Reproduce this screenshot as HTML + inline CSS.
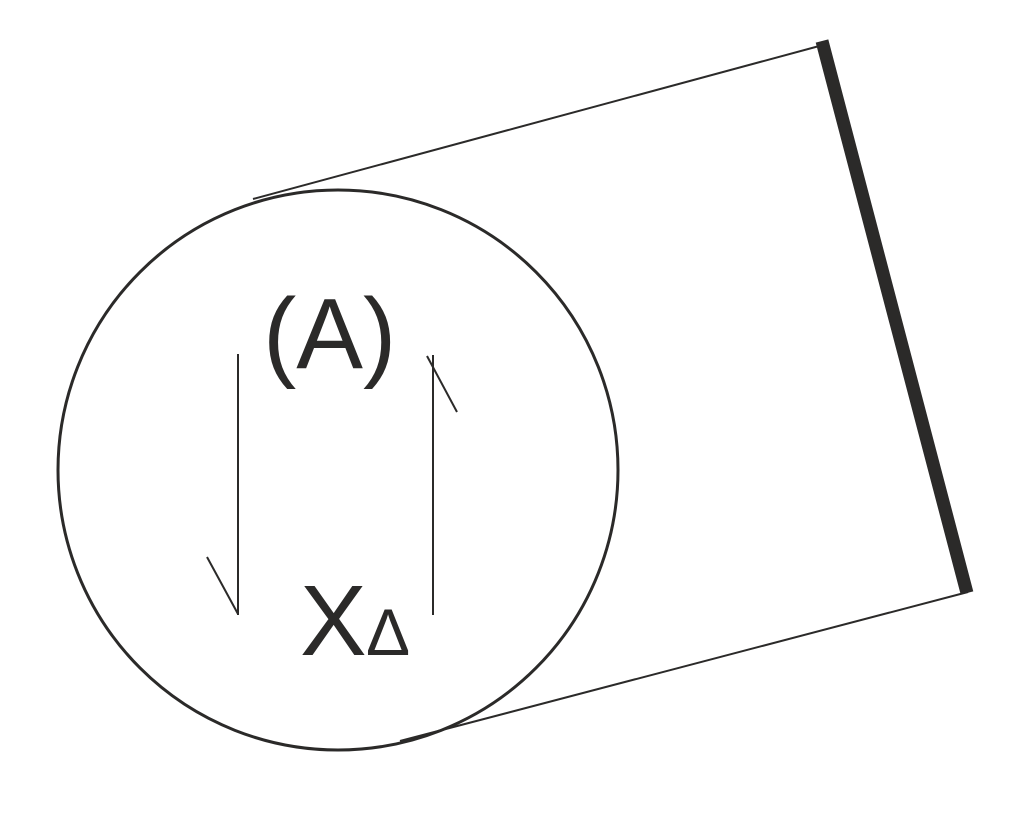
<!DOCTYPE html>
<html><head><style>html,body{margin:0;padding:0;background:#fff;}svg{display:block}</style></head>
<body>
<svg width="1023" height="817" viewBox="0 0 1023 817" xmlns="http://www.w3.org/2000/svg">
<ellipse cx="338" cy="470" rx="280" ry="280" fill="none" stroke="#2b2a29" stroke-width="3"/>
<line x1="253" y1="199" x2="823" y2="45" stroke="#2b2a29" stroke-width="2"/>
<line x1="400" y1="741" x2="968" y2="592" stroke="#2b2a29" stroke-width="2"/>
<line x1="822" y1="41" x2="967" y2="593" stroke="#2b2a29" stroke-width="13"/>
<line x1="238" y1="354" x2="238" y2="615" stroke="#2b2a29" stroke-width="2"/>
<line x1="207" y1="557" x2="238" y2="614" stroke="#2b2a29" stroke-width="2"/>
<line x1="433" y1="355" x2="433" y2="615" stroke="#2b2a29" stroke-width="2"/>
<line x1="427" y1="356" x2="457" y2="412" stroke="#2b2a29" stroke-width="2"/>
<text x="263" y="368" font-family="Liberation Sans, sans-serif" font-size="100" fill="#2b2a29">(A)</text>
<text x="300" y="655" font-family="Liberation Sans, sans-serif" font-size="100" fill="#2b2a29">X</text>
<text x="366" y="655" font-family="Liberation Sans, sans-serif" font-size="66" fill="#2b2a29">Δ</text>
</svg>
</body></html>
